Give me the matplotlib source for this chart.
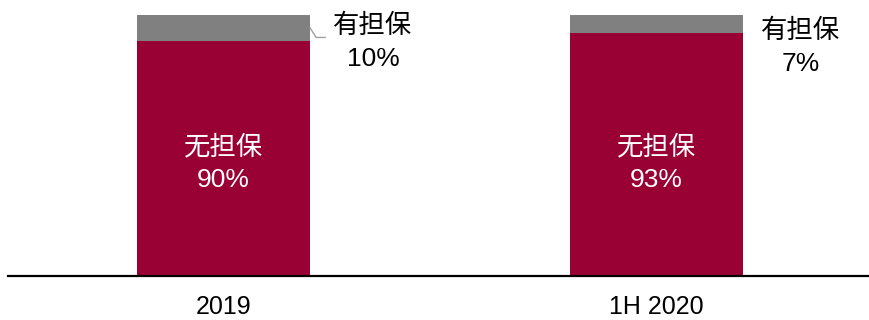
import matplotlib.pyplot as plt

plt.rcParams['font.family'] = ['Liberation Sans', 'Noto Sans CJK SC']

periods = ['2019', '1H 2020']
unsecured = [90, 93]
secured = [10, 7]
unsecured_name = '无担保'
secured_name = '有担保'

red = '#990033'
grey = '#808080'
width = 0.4
fs = 19

fig = plt.figure(figsize=(8.7, 3.2), dpi=100)
ax = fig.add_axes([8 / 870, 44 / 320, 862 / 870, 261 / 320])

x = list(range(len(periods)))
ax.bar(x, unsecured, width, color=red)
ax.bar(x, secured, width, bottom=unsecured, color=grey)

for i in x:
    ax.text(i, 43, '%s\n%d%%' % (unsecured_name, unsecured[i]), color='white',
            ha='center', va='center', fontsize=fs, linespacing=1.45)

# outside labels for the secured slice
ax.text(0 + width / 2 + 0.145, 89.5, '%s\n%d%%' % (secured_name, secured[0]),
        ha='center', va='center', fontsize=fs, linespacing=1.45)
ax.text(1 + width / 2 + 0.133, 87.5, '%s\n%d%%' % (secured_name, secured[1]),
        ha='center', va='center', fontsize=fs, linespacing=1.45)

# short leader from the first grey slice
mid = unsecured[0] + secured[0] / 2
ax.plot([width / 2, width / 2 + 0.014, width / 2 + 0.035],
        [mid, mid - 3.6, mid - 3.6], color='#a0a0a0', lw=1)

ax.set_xlim(-0.4977, 1.493)
ax.set_ylim(0, 100)
ax.set_xticks(x)
ax.set_xticklabels(periods, fontsize=18)
ax.tick_params(axis='x', length=0, pad=14)
ax.set_yticks([])
for side in ['top', 'right', 'left']:
    ax.spines[side].set_visible(False)
ax.spines['bottom'].set_linewidth(1.6)

fig.savefig('out.png', dpi=100)
